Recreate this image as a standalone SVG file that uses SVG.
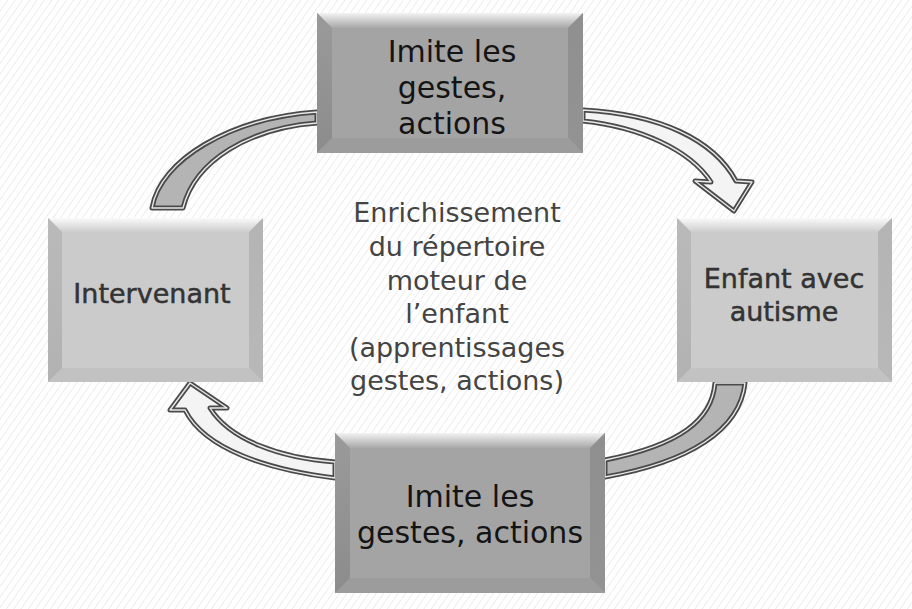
<svg xmlns="http://www.w3.org/2000/svg" width="912" height="609" viewBox="0 0 912 609">
<style>
.t{font-family:"DejaVu Sans","Liberation Sans",sans-serif;text-anchor:middle}
.dark{font-size:30px;fill:#141414}
.light{font-size:27px;fill:#333;stroke:#333;stroke-width:0.5}
.mid{font-size:27px;fill:#444}
.arr-o{stroke:#4a4a4a;stroke-width:5;stroke-linejoin:round}
.arr-i{fill:none;stroke:#e8e8e8;stroke-width:1.4;stroke-linejoin:round}
.g{fill:#b4b4b4}
.w{fill:#f4f4f4}
</style>
<defs>
<pattern id="bg" patternUnits="userSpaceOnUse" width="6" height="6" patternTransform="rotate(35)">
<rect width="6" height="6" fill="#fff"/>
<line x1="0" y1="0" x2="0" y2="6" stroke="#ededed" stroke-width="2"/>
</pattern>
<linearGradient id="topD" x1="0" y1="0" x2="0" y2="1"><stop offset="0" stop-color="#f2f2f2"/><stop offset="1" stop-color="#a8a8a8"/></linearGradient>
<linearGradient id="leftD" x1="0" y1="0" x2="0" y2="1"><stop offset="0" stop-color="#9a9a9a"/><stop offset="1" stop-color="#8c8c8c"/></linearGradient>
<linearGradient id="rightD" x1="0" y1="0" x2="0" y2="1"><stop offset="0" stop-color="#8f8f8f"/><stop offset="1" stop-color="#939393"/></linearGradient>
<linearGradient id="topL" x1="0" y1="0" x2="0" y2="1"><stop offset="0" stop-color="#fafafa"/><stop offset="1" stop-color="#cdcdcd"/></linearGradient>
<linearGradient id="leftL" x1="0" y1="0" x2="0" y2="1"><stop offset="0" stop-color="#bababa"/><stop offset="1" stop-color="#b2b2b2"/></linearGradient>
<linearGradient id="rightL" x1="0" y1="0" x2="0" y2="1"><stop offset="0" stop-color="#b4b4b4"/><stop offset="1" stop-color="#b8b8b8"/></linearGradient>
</defs>
<rect width="912" height="609" fill="url(#bg)"/>

<g id="connectors">
<g id="arrow-top-left">
<path class="g arr-o" d="M152,208 C160,160 230,118 317,112 L317,123 C250,128 195,160 183,208 Z"/>
<path class="arr-i" d="M152,208 C160,160 230,118 317,112 L317,123 C250,128 195,160 183,208 Z"/>
</g>
<g id="arrow-top-right">
<path class="w arr-o" d="M583,110 C660,114 714,140 736,181 L752,182 L734,211 L695,181 L711,182 C690,150 640,127 583,121 Z"/>
<path class="arr-i" d="M583,110 C660,114 714,140 736,181 L752,182 L734,211 L695,181 L711,182 C690,150 640,127 583,121 Z"/>
</g>
<g id="arrow-bottom-right">
<path class="g arr-o" d="M745,383 C740,430 690,462 605,477 L605,460 C680,445 712,420 715,383 Z"/>
<path class="arr-i" d="M745,383 C740,430 690,462 605,477 L605,460 C680,445 712,420 715,383 Z"/>
</g>
<g id="arrow-bottom-left">
<path class="w arr-o" d="M335,478 C270,470 205,450 185,410 L170,410 L190,383 L227,408 L210,408 C230,440 280,458 335,462 Z"/>
<path class="arr-i" d="M335,478 C270,470 205,450 185,410 L170,410 L190,383 L227,408 L210,408 C230,440 280,458 335,462 Z"/>
</g>
</g>

<g id="node-top">
<rect x="317" y="13" width="266" height="140" fill="#a4a4a4"/>
<polygon points="317,13 583,13 568,28 332,28" fill="url(#topD)"/>
<polygon points="583,13 583,153 568,138 568,28" fill="url(#rightD)"/>
<polygon points="317,153 583,153 568,138 332,138" fill="#9c9c9c"/>
<polygon points="317,13 332,28 332,138 317,153" fill="url(#leftD)"/>
<text class="t dark" x="452" y="62">Imite les</text>
<text class="t dark" x="452" y="98">gestes,</text>
<text class="t dark" x="452" y="134">actions</text>
</g>

<g id="node-left">
<rect x="48" y="218" width="215" height="164" fill="#cbcbcb"/>
<polygon points="48,218 263,218 249,232 62,232" fill="url(#topL)"/>
<polygon points="263,218 263,382 249,368 249,232" fill="url(#rightL)"/>
<polygon points="48,382 263,382 249,368 62,368" fill="#c2c2c2"/>
<polygon points="48,218 62,232 62,368 48,382" fill="url(#leftL)"/>
<text class="t light" x="152" y="303">Intervenant</text>
</g>

<g id="node-right">
<rect x="677" y="218" width="215" height="164" fill="#cbcbcb"/>
<polygon points="677,218 892,218 878,232 691,232" fill="url(#topL)"/>
<polygon points="892,218 892,382 878,368 878,232" fill="url(#rightL)"/>
<polygon points="677,382 892,382 878,368 691,368" fill="#c2c2c2"/>
<polygon points="677,218 691,232 691,368 677,382" fill="url(#leftL)"/>
<text class="t light" x="784" y="288">Enfant avec</text>
<text class="t light" x="784" y="321">autisme</text>
</g>

<g id="node-bottom">
<rect x="335" y="433" width="270" height="160" fill="#a4a4a4"/>
<polygon points="335,433 605,433 590,448 350,448" fill="url(#topD)"/>
<polygon points="605,433 605,593 590,578 590,448" fill="url(#rightD)"/>
<polygon points="335,593 605,593 590,578 350,578" fill="#9c9c9c"/>
<polygon points="335,433 350,448 350,578 335,593" fill="url(#leftD)"/>
<text class="t dark" x="470" y="507">Imite les</text>
<text class="t dark" x="470" y="543">gestes, actions</text>
</g>

<g id="center-label">
<text class="t mid" x="457" y="222">Enrichissement</text>
<text class="t mid" x="457" y="256">du répertoire</text>
<text class="t mid" x="457" y="290">moteur de</text>
<text class="t mid" x="457" y="323">l’enfant</text>
<text class="t mid" x="457" y="357">(apprentissages</text>
<text class="t mid" x="457" y="390">gestes, actions)</text>
</g>
</svg>
